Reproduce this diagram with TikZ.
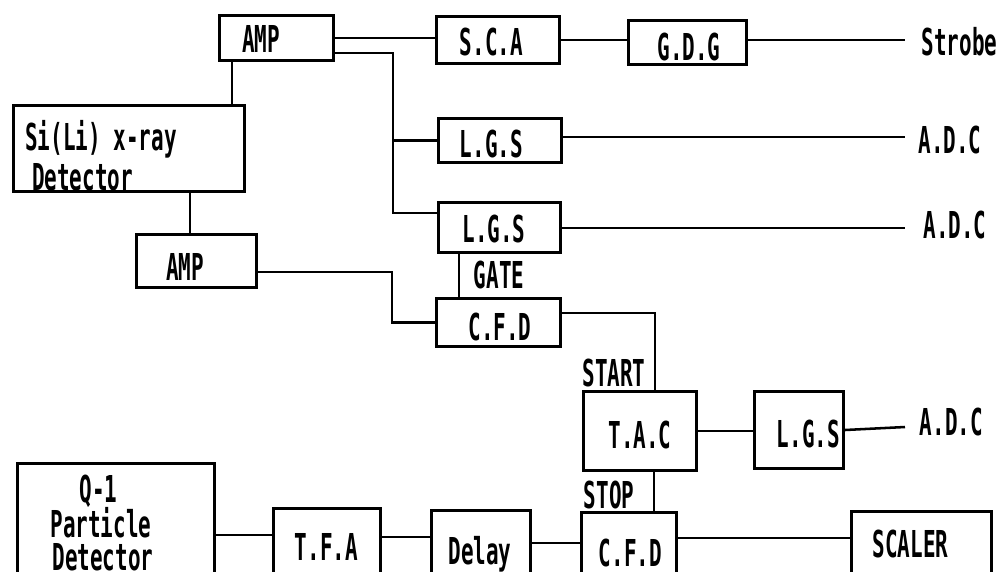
\documentclass[tikz,border=0pt]{standalone}
\usepackage{fontspec}
\newfontfamily\plotfont{DejaVu Sans Mono}[FakeStretch=0.565]
\usetikzlibrary{calc}
\begin{document}
\begin{tikzpicture}[x=0.75pt,y=-0.75pt,
  box/.style n args={2}{draw, line width=2.3pt, inner sep=0pt,
    minimum width=#1*0.75pt, minimum height=#2*0.75pt},
  lbl/.style={inner sep=0pt, anchor=base,
    font=\plotfont\bfseries\fontsize{27.8pt}{30pt}\selectfont},
  wire/.style={line width=1.9pt, line join=miter}]
\useasboundingbox (0,0) rectangle (1001,572);
\clip (0,0) rectangle (1001,572);
\fill[white] (0,0) rectangle (1001,572);
% boxes
\node[box={114}{45}] (amp1) at (276.5,38) {};
\node[box={123}{47}] (sca) at (498,40) {};
\node[box={118}{44}] (gdg) at (687.5,42.5) {};
\node[box={123}{44}] (lgs1) at (500,140.5) {};
\node[box={122}{50}] (lgs2) at (499.5,227.5) {};
\node[box={231}{86}] (sili) at (129,148.5) {};
\node[box={120}{53}] (amp2) at (196.5,261) {};
\node[box={124}{48}] (cfd1) at (498.5,322.5) {};
\node[box={113}{79}] (tac) at (640,431) {};
\node[box={89}{77}] (lgs3) at (799,430) {};
\node[box={95}{86}] (cfd2) at (629,555.5) {};
\node[box={140}{87}] (scaler) at (921.5,555) {};
\node[box={197}{135}] (q1) at (116,531) {};
\node[box={107}{90}] (tfa) at (327,553.5) {};
\node[box={99}{88}] (delay) at (481,554.5) {};
% labels
\node[lbl] (tamp1) at (261,52) {AMP};
\node[lbl] (tsca) at (491.5,55) {S.C.A};
\node[lbl] (tgdg) at (689,60) {G.D.G};
\node[lbl] (tstrobe) at (959.5,55) {Strobe};
\node[lbl] (tlgs1) at (491.5,157) {L.G.S};
\node[lbl] (tadc1) at (950,153) {A.D.C};
\node[lbl] (tlgs2) at (494,242) {L.G.S};
\node[lbl] (tadc2) at (955,238) {A.D.C};
\node[lbl] (tgate) at (499,288) {GATE};
\node[lbl] (tamp2) at (185,280) {AMP};
\node[lbl] (tcfd1) at (500,340) {C.F.D};
\node[lbl] (tstart) at (614,386) {START};
\node[lbl] (ttac) at (640,448) {T.A.C};
\node[lbl] (tlgs3) at (808.5,447) {L.G.S};
\node[lbl] (tadc3) at (951.5,435) {A.D.C};
\node[lbl] (tstop) at (609,508) {STOP};
\node[lbl] (tcfd2) at (630.5,566) {C.F.D};
\node[lbl] (tscaler) at (910.5,557) {SCALER};
\node[lbl] (tq1) at (98.5,502) {Q-1};
\node[lbl] (tpart) at (101,537) {Particle};
\node[lbl] (tdet2) at (103,570) {Detector};
\node[lbl] (ttfa) at (326.5,560) {T.F.A};
\node[lbl] (tdelay) at (480,564) {Delay};
\node[lbl] (tsili) at (101,150) {Si(Li) x-ray};
\node[lbl] (tdet1) at (82.5,190) {Detector};
% coordinates for bends and free ends
\coordinate (eStrobe) at (905,40);
\coordinate (eAdc1) at (905,137);
\coordinate (eAdc2) at (905,228);
\coordinate (eAdc3) at (905,427);
\coordinate (b1) at (393,53);
\coordinate (b2) at (393,213);
\coordinate (gx) at (459,0);
\coordinate (c1) at (392,272);
\coordinate (v1) at (232,0);
\coordinate (v2) at (190,0);
\coordinate (d1) at (655,313);
\coordinate (v3) at (654,0);
\coordinate (y1) at (0,538);
\coordinate (y2) at (0,543);
\coordinate (y3) at (0,537);
\coordinate (y4) at (0,535);
% connectors
\draw[wire] (amp1.east) -- (amp1.east -| sca.west);
\draw[wire] (sca.east) -- (sca.east -| gdg.west);
\draw[wire] (gdg.east |- eStrobe) -- (eStrobe);
\draw[wire] (amp1.east |- b1) -- (b1) -- (b2) -- (b2 -| lgs2.west);
\draw[wire] (b1 |- lgs1.west) -- (lgs1.west);
\draw[wire] (lgs1.east |- eAdc1) -- (eAdc1);
\draw[wire] (lgs2.east |- eAdc2) -- (eAdc2);
\draw[wire] (lgs2.south -| gx) -- (cfd1.north -| gx);
\draw[wire] (amp2.east |- c1) -- (c1) |- (cfd1.west);
\draw[wire] (amp1.south -| v1) -- (sili.north -| v1);
\draw[wire] (sili.south -| v2) -- (amp2.north -| v2);
\draw[wire] (cfd1.east |- d1) -- (d1) -- (d1 |- tac.north);
\draw[wire] (tac.east) -- (tac.east -| lgs3.west);
\draw[wire] (lgs3.east) -- (eAdc3);
\draw[wire] (tac.south -| v3) -- (cfd2.north -| v3);
\draw[wire] (cfd2.east |- y1) -- (scaler.west |- y1);
\draw[wire] (delay.east |- y2) -- (cfd2.west |- y2);
\draw[wire] (tfa.east |- y3) -- (delay.west |- y3);
\draw[wire] (q1.east |- y4) -- (tfa.west |- y4);
\end{tikzpicture}
\end{document}
